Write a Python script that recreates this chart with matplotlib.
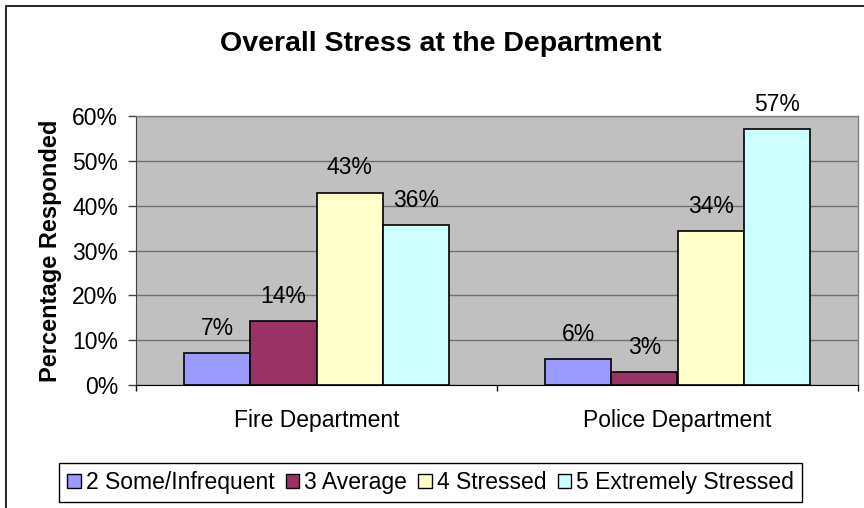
import matplotlib
matplotlib.use("Agg")
import matplotlib.pyplot as plt
import matplotlib.patches as mpatches
import numpy as np

categories = ["Fire Department", "Police Department"]
series_names = ["2 Some/Infrequent", "3 Average", "4 Stressed", "5 Extremely Stressed"]
fire_values = [7.1, 14.3, 42.9, 35.7]
police_values = [5.7, 2.9, 34.3, 57.1]
y_ticks = [0, 10, 20, 30, 40, 50, 60]
colors = ["#9999FF", "#993366", "#FFFFCC", "#CCFFFF"]

plt.rcParams['font.family'] = ['Liberation Sans', 'DejaVu Sans']

W, H = 864, 508
fig = plt.figure(figsize=(W / 100, H / 100), dpi=100)
ax = fig.add_axes([136 / W, 1 - 385 / H, 722 / W, 269 / H])
ax.set_facecolor("#C0C0C0")

x = np.arange(len(categories))
w = 0.183
data = [list(v) for v in zip(fire_values, police_values)]
for i, (name, vals) in enumerate(zip(series_names, data)):
    bars = ax.bar(x + (i - 1.5) * w, vals, width=w, color=colors[i],
                  edgecolor="black", linewidth=1.2, label=name, zorder=3)
    ax.bar_label(bars, labels=[f"{round(v):.0f}%" for v in vals],
                 padding=9.5, fontsize=16.5, color="black")

ax.set_xlim(-0.5, 1.5)
ax.set_ylim(0, 60)
ax.set_yticks(y_ticks)
ax.set_yticklabels([f"{t}%" for t in y_ticks], fontsize=16.5)
ax.yaxis.grid(True, color="#707070", linewidth=1.0, zorder=0)
ax.set_axisbelow(True)
ax.tick_params(axis="y", direction="out", length=6, width=1, color="#404040", pad=7)

ax.set_xticks(x)
ax.set_xticklabels(categories, fontsize=16.5)
ax.set_xticks([-0.5, 0.5, 1.5], minor=True)
ax.tick_params(axis="x", which="major", length=0, pad=17)
ax.tick_params(axis="x", which="minor", length=4, width=1, color="black")

for s in ["top", "right"]:
    ax.spines[s].set_color("#808080")
    ax.spines[s].set_linewidth(1.0)
ax.spines["left"].set_color("#404040")
ax.spines["bottom"].set_color("black")

ax.set_ylabel("Percentage Responded", fontsize=17, fontweight="bold", labelpad=7)
fig.text(441 / W, 1 - 44 / H, "Overall Stress at the Department", ha="center",
         va="center", fontsize=20.5, fontweight="bold")

leg = fig.legend(loc="center", bbox_to_anchor=((59 + 802) / 2 / W, 1 - (461 + 504) / 2 / H),
                 ncol=4, fontsize=16.5, frameon=True, fancybox=False, framealpha=1,
                 edgecolor="black", handlelength=0.6, handleheight=0.6,
                 handletextpad=0.2, columnspacing=0.5, borderpad=0.35, borderaxespad=0)
leg.get_frame().set_linewidth(1.0)
for h in leg.legend_handles:
    h.set_linewidth(1.0)
    h.set_edgecolor("black")

border = mpatches.Rectangle((6 / W, -0.5), 2, 1.5 - 6 / H, transform=fig.transFigure,
                            fill=False, edgecolor="black", linewidth=1.2)
fig.add_artist(border)

fig.savefig("out.png", dpi=100)
